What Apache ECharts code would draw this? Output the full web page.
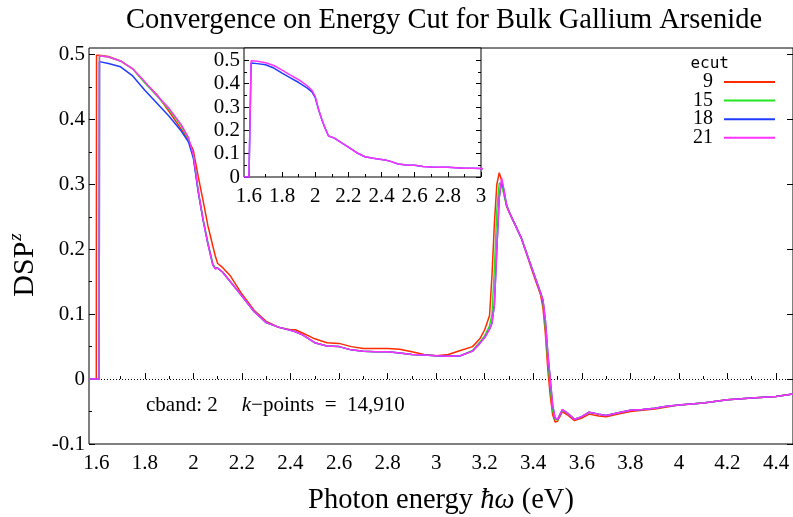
<!DOCTYPE html>
<html>
<head>
<meta charset="utf-8">
<script src="https://cdn.jsdelivr.net/npm/echarts@6/dist/echarts.min.js"></script>
<style>html,body{margin:0;padding:0;background:#fff}#c{width:793px;height:517px}</style>
</head>
<body>
<div id="c"></div>
<script>
// ---- data ----
const energy = [1.57,1.600,1.601,1.612,1.613,1.65,1.70,1.75,1.80,1.85,1.90,1.95,1.98,2.00,2.02,2.04,2.06,2.08,2.09,2.10,2.12,2.15,2.20,2.25,2.30,2.35,2.40,2.42,2.45,2.50,2.55,2.60,2.65,2.70,2.75,2.80,2.85,2.90,2.95,3.00,3.05,3.10,3.15,3.18,3.20,3.22,3.23,3.24,3.25,3.26,3.27,3.28,3.29,3.30,3.35,3.40,3.43,3.44,3.45,3.46,3.47,3.48,3.49,3.50,3.52,3.54,3.57,3.60,3.63,3.67,3.70,3.75,3.80,3.85,3.90,3.95,4.00,4.10,4.20,4.30,4.40,4.47];
const dsp9  = [0,0,0.499,0.499,0.499,0.497,0.490,0.478,0.457,0.438,0.412,0.385,0.368,0.352,0.312,0.275,0.236,0.205,0.190,0.178,0.172,0.160,0.131,0.106,0.089,0.080,0.076,0.076,0.071,0.062,0.056,0.055,0.050,0.047,0.047,0.047,0.046,0.042,0.038,0.036,0.038,0.044,0.050,0.062,0.076,0.098,0.160,0.240,0.300,0.318,0.305,0.285,0.266,0.258,0.218,0.162,0.130,0.110,0.070,0.015,-0.025,-0.055,-0.066,-0.065,-0.050,-0.055,-0.064,-0.060,-0.054,-0.057,-0.058,-0.054,-0.050,-0.048,-0.046,-0.043,-0.040,-0.037,-0.032,-0.029,-0.027,-0.023];
const dsp15 = [0,0,0,0,0.498,0.496,0.490,0.478,0.456,0.436,0.415,0.390,0.370,0.343,0.290,0.246,0.210,0.178,0.171,0.171,0.165,0.151,0.128,0.104,0.087,0.080,0.075,0.073,0.068,0.056,0.051,0.050,0.045,0.043,0.042,0.042,0.040,0.038,0.037,0.036,0.035,0.036,0.044,0.057,0.067,0.082,0.100,0.170,0.260,0.302,0.300,0.282,0.268,0.258,0.218,0.165,0.133,0.120,0.080,0.030,-0.010,-0.048,-0.062,-0.063,-0.048,-0.052,-0.062,-0.058,-0.051,-0.054,-0.056,-0.052,-0.048,-0.047,-0.045,-0.042,-0.040,-0.037,-0.032,-0.029,-0.027,-0.023];
const dsp18 = [0,0,0,0,0.489,0.486,0.481,0.467,0.445,0.425,0.405,0.382,0.365,0.340,0.288,0.245,0.208,0.176,0.170,0.171,0.165,0.151,0.128,0.104,0.087,0.080,0.075,0.073,0.068,0.056,0.051,0.050,0.045,0.043,0.042,0.042,0.040,0.038,0.037,0.036,0.035,0.036,0.043,0.055,0.064,0.077,0.086,0.115,0.200,0.280,0.305,0.290,0.268,0.258,0.218,0.165,0.133,0.122,0.090,0.040,0.000,-0.040,-0.060,-0.062,-0.047,-0.052,-0.062,-0.058,-0.051,-0.054,-0.056,-0.052,-0.048,-0.047,-0.045,-0.042,-0.040,-0.037,-0.032,-0.029,-0.027,-0.023];
const dsp21 = [0,0,0,0,0.498,0.496,0.490,0.478,0.458,0.437,0.417,0.392,0.372,0.345,0.290,0.245,0.208,0.176,0.170,0.171,0.165,0.151,0.128,0.104,0.087,0.080,0.075,0.073,0.068,0.056,0.051,0.050,0.045,0.043,0.042,0.042,0.040,0.038,0.037,0.036,0.035,0.036,0.043,0.055,0.064,0.077,0.086,0.115,0.200,0.280,0.310,0.290,0.268,0.258,0.218,0.165,0.133,0.122,0.090,0.040,0.000,-0.040,-0.060,-0.062,-0.047,-0.052,-0.062,-0.058,-0.051,-0.054,-0.056,-0.052,-0.048,-0.047,-0.045,-0.042,-0.040,-0.037,-0.032,-0.029,-0.027,-0.023];
const seriesNames = ['9','15','18','21'];
const xMajor = [1.6,1.8,2.0,2.2,2.4,2.6,2.8,3.0,3.2,3.4,3.6,3.8,4.0,4.2,4.4];
const xMinor = [1.7,1.9,2.1,2.3,2.5,2.7,2.9,3.1,3.3,3.5,3.7,3.9,4.1,4.3];
const yMajor = [-0.1,0,0.1,0.2,0.3,0.4,0.5];
const yMinor = [-0.05,0.05,0.15,0.25,0.35,0.45];
const inXMajor = [1.6,1.8,2.0,2.2,2.4,2.6,2.8,3.0];
const inXMinor = [1.7,1.9,2.1,2.3,2.5,2.7,2.9];
const inYMajor = [0,0.1,0.2,0.3,0.4,0.5];
const inYMinor = [0.05,0.15,0.25,0.35,0.45];

const colors = ['#ff2a00','#22e622','#1f3cff','#ff33ff'];
const SERIF = '"Liberation Serif", serif';
const fmt = v => String(+(+v).toFixed(2));
const pairs = arr => energy.map((e,i)=>[e,arr[i]]);

function xAx(grid, min, max, vals, len, labels){
  return {type:'value', gridIndex:grid, min:min, max:max, position:'bottom',
    axisLine:{show:false}, splitLine:{show:false},
    axisTick:{show:true, inside:true, length:len, customValues:vals, lineStyle:{color:'#000',width:1}},
    axisLabel:{show:labels, customValues:vals, formatter:fmt, color:'#000', fontFamily:SERIF, fontSize:21, margin:9}};
}
function yAx(grid, min, max, vals, len, labels, pos){
  return {type:'value', gridIndex:grid, min:min, max:max, position:pos,
    axisLine:{show:false}, splitLine:{show:false},
    axisTick:{show:true, inside:true, length:len, customValues:vals, lineStyle:{color:'#000',width:1}},
    axisLabel:{show:labels, customValues:vals, formatter:fmt, color:'#000', fontFamily:SERIF, fontSize:21, margin:4}};
}

const series = [dsp9,dsp15,dsp18,dsp21].map((d,i)=>({
  name:seriesNames[i], type:'line', xAxisIndex:0, yAxisIndex:0, data:pairs(d),
  showSymbol:false, lineStyle:{width:1.5,color:colors[i]}, itemStyle:{color:colors[i]}, z:3+i
}));
series[0].markLine = {silent:true, symbol:['none','none'], label:{show:false},
  lineStyle:{type:[1,2], color:'#000', width:1}, data:[{yAxis:0}], z:1};
[dsp18,dsp21].forEach((d,k)=>{
  const i = k+2;
  series.push({name:seriesNames[i], type:'line', xAxisIndex:4, yAxisIndex:6, data:pairs(d),
    showSymbol:false, lineStyle:{width:1.5,color:colors[i]}, itemStyle:{color:colors[i]}, z:3+i});
});

const chart = echarts.init(document.getElementById('c'), null, {renderer:'canvas'});
chart.setOption({
  animation:false,
  backgroundColor:'#fff',
  title:{text:'Convergence on Energy Cut for Bulk Gallium Arsenide', left:439, top:1, textAlign:'center',
    textStyle:{fontFamily:SERIF, fontWeight:'normal', fontSize:28.5, color:'#000'}},
  grid:[
    {left:89, top:48, right:0, bottom:73, show:true, borderColor:'#000', borderWidth:1, backgroundColor:'transparent', outerBoundsMode:'none', containLabel:false},
    {left:244, top:48, width:237, height:129, show:true, borderColor:'#000', borderWidth:1, backgroundColor:'#fff', outerBoundsMode:'none', containLabel:false}
  ],
  xAxis:[
    xAx(0,1.57,4.47,xMajor,6,true),
    xAx(0,1.57,4.47,xMinor,3,false),
    Object.assign(xAx(0,1.57,4.47,[],0,false),{name:'{a|Photon energy }{i|ħω}{a| (eV)}', nameLocation:'middle', nameGap:42,
      nameTextStyle:{fontFamily:SERIF, fontSize:28.5, color:'#000',
        rich:{a:{fontFamily:SERIF, fontSize:28.5, color:'#000'}, i:{fontFamily:SERIF, fontSize:28.5, fontStyle:'italic', color:'#000'}}}}),
    xAx(1,1.57,3.0,inXMinor,3,false),
    xAx(1,1.57,3.0,inXMajor,5,true)
  ],
  yAxis:[
    yAx(0,-0.1,0.51,yMajor,6,true,'left'),
    yAx(0,-0.1,0.51,yMinor,3,false,'left'),
    yAx(0,-0.1,0.51,yMajor,6,false,'right'),
    Object.assign(yAx(0,-0.1,0.51,[],0,false,'left'),{name:'{a|DSP}{s|z}', nameLocation:'middle', nameGap:49,
      nameTextStyle:{fontFamily:SERIF, fontSize:30, color:'#000', padding:[0,38,0,0],
        rich:{a:{fontFamily:SERIF, fontSize:30, color:'#000', lineHeight:34, verticalAlign:'bottom'},
              s:{fontFamily:SERIF, fontSize:19, fontStyle:'italic', color:'#000', lineHeight:34, verticalAlign:'top', padding:[0,0,12,1]}}}}),
    yAx(1,0,0.553,inYMinor,3,false,'left'),
    yAx(1,0,0.553,inYMinor,3,false,'right'),
    yAx(1,0,0.553,inYMajor,5,true,'left'),
    yAx(1,0,0.553,inYMajor,5,false,'right')
  ],
  legend:{data:seriesNames, orient:'vertical', right:18, top:72, padding:0, align:'right', icon:'rect',
    itemWidth:51, itemHeight:2, itemGap:-1.4, selectedMode:false,
    textStyle:{fontFamily:SERIF, fontSize:20, color:'#000', lineHeight:18.3, padding:[0,6,0,0]}},
  graphic:[
    {type:'text', right:64, top:56, style:{text:'ecut', font:'16px "DejaVu Sans Mono", monospace', fill:'#000'}},
    {type:'text', left:146, top:395, style:{
      text:'{a|cband: 2}{sp|}{i|k}{a|−points  =  14,910}',
      rich:{a:{fontFamily:SERIF, fontSize:21, fill:'#000'}, sp:{width:24},
            i:{fontFamily:SERIF, fontSize:21, fontStyle:'italic', fill:'#000'}}}}
  ],
  series:series
});
</script>
</body>
</html>
